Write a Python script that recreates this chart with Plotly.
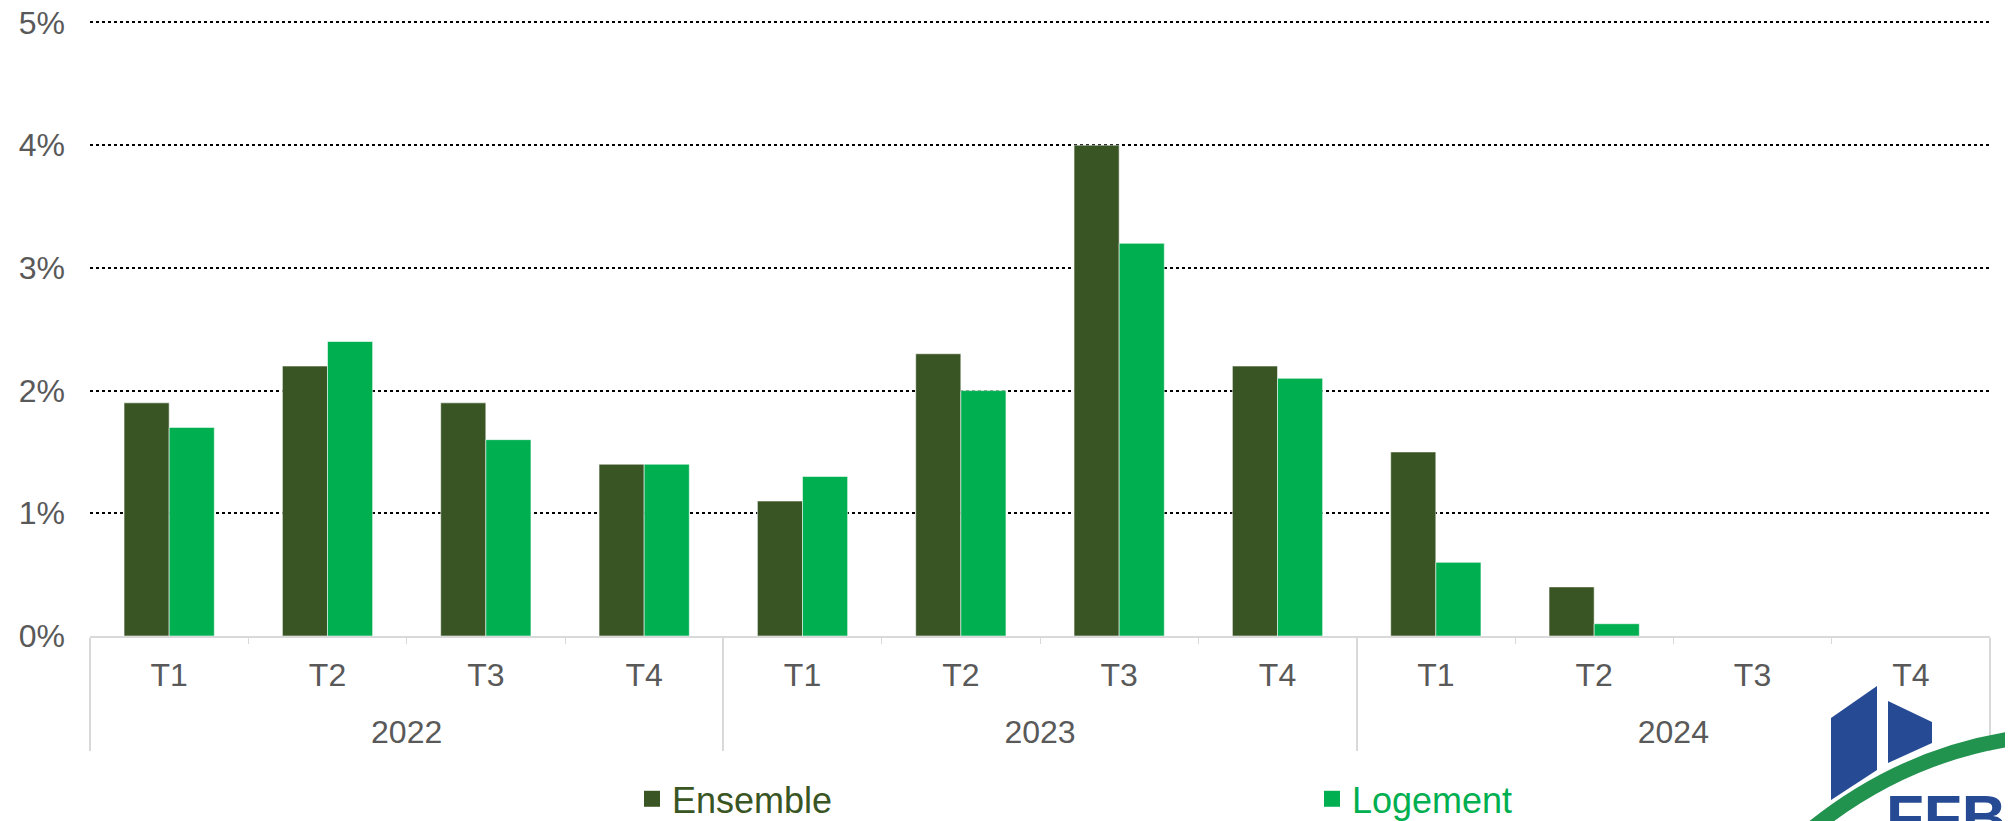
import plotly.graph_objects as go

# categories
years = ["2022"] * 4 + ["2023"] * 4 + ["2024"] * 4
quarters = ["T1", "T2", "T3", "T4"] * 3

# series values (%)
ensemble = [1.9, 2.2, 1.9, 1.4, 1.1, 2.3, 4.0, 2.2, 1.5, 0.4, None, None]
logement = [1.7, 2.4, 1.6, 1.4, 1.3, 2.0, 3.2, 2.1, 0.6, 0.1, None, None]

y_ticks = [0, 1, 2, 3, 4, 5]
y_labels = [f"{v}%" for v in y_ticks]

DARK = "#3A5524"
LIGHT = "#00AF50"
BLUE = "#264B94"
ARC = "#22924F"
FONT = "Liberation Sans, Arial, sans-serif"

# page body has an 8px margin: work in screen pixels, shift by OFF
OFF = 8
W, H = 2013 - OFF, 821 - OFF
Y_TOP = 5.02
L, R, B = 90, 1990, 636            # plot area in screen pixels
T = B - (B - 22) * Y_TOP / 5       # 5% gridline sits at y=22


def px(x):
    return (x - L) / (R - L)


def py(y):
    return (B - y) / (B - T)


# x labels drawn at 32px; the axis font is smaller so the line break
# pushing the years down is a bit shorter
big = "<span style='font-size:32px'>{}</span>"
quarter_labels = [big.format(q) for q in quarters]
year_labels = ["<br>" + big.format(y) for y in years]

fig = go.Figure()
fig.add_trace(go.Bar(
    x=[year_labels, quarter_labels], y=ensemble, name="Ensemble", showlegend=False,
    marker=dict(color=DARK, line=dict(color="rgba(255,255,255,0.55)", width=1)),
))
fig.add_trace(go.Bar(
    x=[year_labels, quarter_labels], y=logement, name="Logement", showlegend=False,
    marker=dict(color=LIGHT, line=dict(color="rgba(255,255,255,0.55)", width=1)),
))

# legend entries (square markers, coloured text)
for name, col in [("Ensemble", DARK), ("Logement", LIGHT)]:
    fig.add_trace(go.Scatter(
        x=[year_labels[:1], quarter_labels[:1]], y=[None], mode="markers",
        name=f"<span style='color:{col}'>{name}</span>",
        marker=dict(symbol="square", size=19, color=col),
        hoverinfo="skip",
    ))

# logo (bottom right, partly cut off)
shapes = [
    dict(type="path", xref="paper", yref="paper",
         path=f"M {px(1831)},{py(718)} L {px(1877)},{py(686)} L {px(1877)},{py(770)} L {px(1831)},{py(800)} Z",
         fillcolor=BLUE, line=dict(width=0), layer="above"),
    dict(type="path", xref="paper", yref="paper",
         path=f"M {px(1888)},{py(701)} L {px(1932)},{py(722)} L {px(1932)},{py(743)} L {px(1888)},{py(763)} Z",
         fillcolor=BLUE, line=dict(width=0), layer="above"),
    dict(type="path", xref="paper", yref="paper",
         path=f"M {px(1808)},{py(832)} Q {px(1905)},{py(752)} {px(2025)},{py(737)}",
         line=dict(color=ARC, width=15), layer="above"),
]

fig.update_layout(
    width=W, height=H,
    margin=dict(l=L - OFF, r=W - (R - OFF), t=T - OFF, b=H - (B - OFF), autoexpand=False),
    plot_bgcolor="white", paper_bgcolor="white",
    barmode="group", bargap=0.43, bargroupgap=0,
    font=dict(family=FONT, size=32, color="#595959"),
    showlegend=True,
    legend=dict(
        orientation="h", x=px(632), xanchor="left", y=py(799), yanchor="middle",
        entrywidth=635, entrywidthmode="pixels",
        font=dict(family=FONT, size=36), traceorder="normal",
        itemwidth=30, bgcolor="rgba(0,0,0,0)",
    ),
    shapes=shapes,
    annotations=[
        dict(text="<b>FFB</b>", xref="paper", yref="paper", x=px(1884), y=py(780),
             xanchor="left", yanchor="top", showarrow=False,
             font=dict(family=FONT, size=62, color=BLUE)),
    ],
)

fig.update_xaxes(
    type="multicategory", range=[-0.5, 11.5],
    showline=True, linecolor="#D9D9D9", linewidth=1.5,
    ticks="outside", tickson="boundaries", ticklen=6, tickcolor="#D9D9D9",
    showdividers=True, dividercolor="#D9D9D9", dividerwidth=1.5,
    showgrid=False,
    ticklabelstandoff=16,
    tickfont=dict(family=FONT, size=27, color="#595959"),
)
fig.update_yaxes(
    range=[0, Y_TOP], tickvals=y_ticks, ticktext=y_labels,
    showgrid=True, gridcolor="black", gridwidth=1.5, griddash="dot",
    zeroline=False, showline=False, ticks="",
    ticklabelstandoff=24, ticklabeloverflow="allow",
    tickfont=dict(family=FONT, size=32, color="#595959"),
)

fig.write_html("out.html")
